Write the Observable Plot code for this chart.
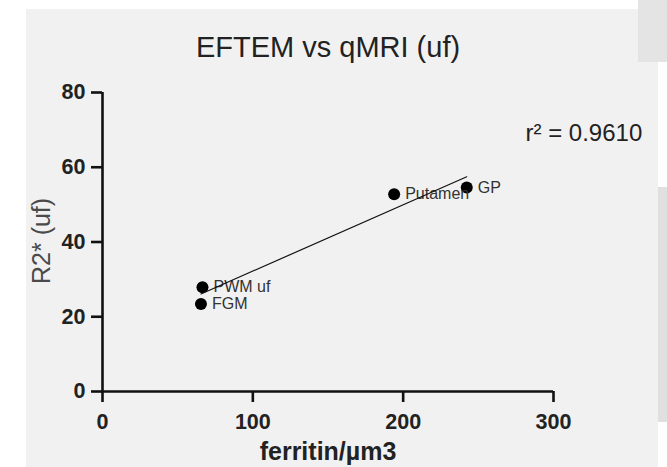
<!DOCTYPE html>
<html>
<head>
<meta charset="utf-8">
<script src="https://cdn.jsdelivr.net/npm/d3@7"></script>
<script src="https://cdn.jsdelivr.net/npm/@observablehq/plot@0.6"></script>
<style>
  html, body { margin: 0; padding: 0; background: #ffffff; }
  #wrap { position: relative; width: 667px; height: 467px; overflow: hidden; font-family: "Liberation Sans", Arial, sans-serif; }
  .bg { position: absolute; }
  #chart { position: absolute; left: 0; top: 0; }
  #chart svg { background: transparent; }
</style>
</head>
<body>
<div id="wrap">
  <div class="bg" style="left:26px;top:9px;width:632px;height:458px;background:#f1f1f1;"></div>
  <div class="bg" style="left:638px;top:0px;width:29px;height:62px;background:#e4e4e4;"></div>
  <div class="bg" style="left:658px;top:187px;width:9px;height:235px;background:#e0e0e0;"></div>
  <div id="chart"></div>
</div>
<script>
// Data
const regions = ["GP", "Putamen", "PWM uf", "FGM"];
const ferritin = [242.3, 194, 66.5, 65.5];   // ferritin/µm3
const r2star = [54.6, 52.8, 27.9, 23.4];     // R2* (uf)

const xTicks = [0, 100, 200, 300];
const yTicks = [0, 20, 40, 60, 80];

const titleText = "EFTEM vs qMRI (uf)";
const xLabel = "ferritin/µm3";
const yLabel = "R2* (uf)";
const rSquaredText = "r² = 0.9610";

const data = regions.map((name, i) => ({name, x: ferritin[i], y: r2star[i]}));

const font = "Liberation Sans, Arial, sans-serif";

const chart = Plot.plot({
  width: 667,
  height: 467,
  marginLeft: 102,
  marginRight: 114,
  marginTop: 92,
  marginBottom: 76,
  style: {background: "transparent", fontFamily: font, overflow: "visible"},
  x: {domain: [0, 300], axis: null},
  y: {domain: [0, 80], axis: null},
  marks: [
    // axis lines
    Plot.ruleY([0], {x1: 0, x2: 300, stroke: "#111", strokeWidth: 2.6}),
    Plot.ruleX([0], {y1: 0, y2: 80, stroke: "#111", strokeWidth: 2.6}),
    Plot.axisX(xTicks, {
      tickSize: 11, tickPadding: 11, strokeWidth: 2.6, stroke: "#111",
      fontSize: 21.5, fontWeight: "bold", fill: "#222", label: null,
      tickFormat: d => String(d)
    }),
    Plot.axisY(yTicks, {
      tickSize: 11, tickPadding: 6, strokeWidth: 2.6, stroke: "#111",
      fontSize: 21.5, fontWeight: "bold", fill: "#222", label: null,
      tickFormat: d => String(d)
    }),
    // points
    Plot.dot(data, {x: "x", y: "y", r: 6, fill: "#000", stroke: "none"}),
    // point labels
    Plot.text(data, {x: "x", y: "y", text: "name", dx: 11, textAnchor: "start",
      fontSize: 16, fill: "#333", fontFamily: font}),
    // regression line
    Plot.linearRegressionY(data, {x: "x", y: "y", stroke: "#111", strokeWidth: 1.2, ci: 0}),
    // title
    Plot.text([titleText], {frameAnchor: "top", dy: -56, fontSize: 29, fill: "#222", fontFamily: font}),
    // y label
    Plot.text([yLabel], {frameAnchor: "left", dx: -61, dy: 42, rotate: -90, fontSize: 25, fill: "#4a4a4a", fontFamily: font}),
    // x label
    Plot.text([xLabel], {frameAnchor: "bottom", dy: 68, fontSize: 25, fontWeight: "bold", fill: "#222", fontFamily: font}),
    // r squared annotation
    Plot.text([rSquaredText], {frameAnchor: "top-right", dx: -28, dy: 31, textAnchor: "start", fontSize: 24, fill: "#222", fontFamily: font})
  ]
});
document.getElementById("chart").appendChild(chart);
</script>
</body>
</html>
